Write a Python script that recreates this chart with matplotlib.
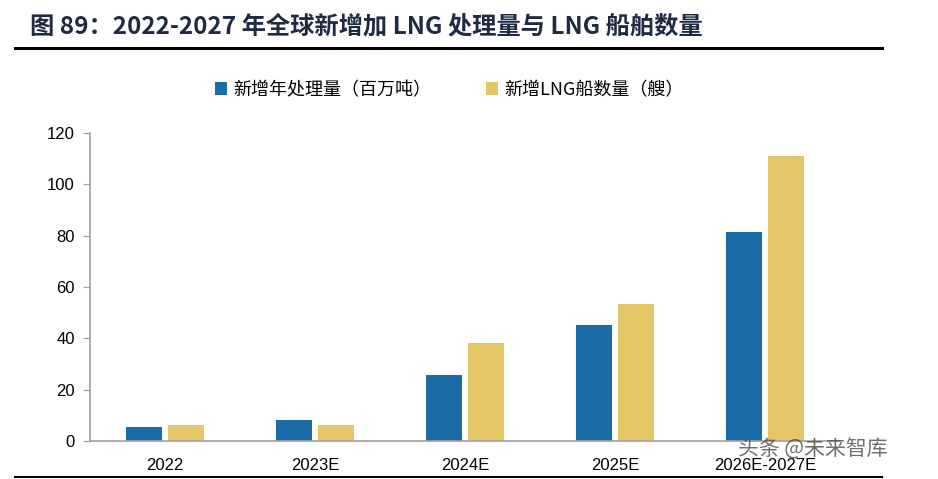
import numpy as np
import matplotlib.pyplot as plt
from matplotlib.lines import Line2D

plt.rcParams['font.family'] = ['Liberation Sans', 'Noto Sans CJK SC', 'DejaVu Sans']

categories = ['2022', '2023E', '2024E', '2025E', '2026E-2027E']
capacity = [5.5, 8.2, 25.7, 45.2, 81.4]     # 新增年处理量（百万吨）
ships = [6.2, 6.2, 38.2, 53.4, 111.0]       # 新增LNG船数量（艘）

blue = '#1B6BA6'
yellow = '#E3C766'

fig = plt.figure(figsize=(9.38, 4.79), dpi=100)
ax = fig.add_axes([0.096, 0.0793, 0.7995, 0.643])

x = np.arange(len(categories))
w = 0.235
ax.bar(x - 0.14, capacity, w, color=blue, label='新增年处理量（百万吨）')
ax.bar(x + 0.14, ships, w, color=yellow, label='新增LNG船数量（艘）')

ax.set_xlim(-0.5, len(categories) - 0.5)
ax.set_ylim(0, 120)
ax.set_yticks(range(0, 121, 20))
ax.set_xticks(x)
ax.set_xticklabels(categories, fontsize=12)
ax.tick_params(axis='y', labelsize=12, length=5, color='#A0A0A0', pad=6)
ax.tick_params(axis='x', length=0, pad=12)
for s in ['top', 'right']:
    ax.spines[s].set_visible(False)
for s in ['left', 'bottom']:
    ax.spines[s].set_color('#A0A0A0')
    ax.spines[s].set_linewidth(1.2)

fig.legend(loc='center', bbox_to_anchor=(0.479, 0.812), ncol=2, frameon=False,
           handlelength=0.7, handleheight=0.7, columnspacing=3,
           handletextpad=0.35, prop={'family': ['Noto Sans CJK SC'], 'size': 13})

fig.text(0.032, 0.945, '图 89：2022-2027 年全球新增加 LNG 处理量与 LNG 船舶数量',
         fontsize=17.5, fontweight='bold', color='#1F2A44', va='center',
         family=['Noto Sans CJK SC'])
fig.add_artist(Line2D([0.016, 0.94], [0.9, 0.9], color='black', lw=2.2))
fig.add_artist(Line2D([0.016, 0.94], [0.004, 0.004], color='black', lw=1.5))

fig.text(0.787, 0.05, '头条 @未来智库', fontsize=15, color='#555555', alpha=0.85,
         family=['Noto Sans CJK SC'])

fig.savefig('out.png', dpi=100)
